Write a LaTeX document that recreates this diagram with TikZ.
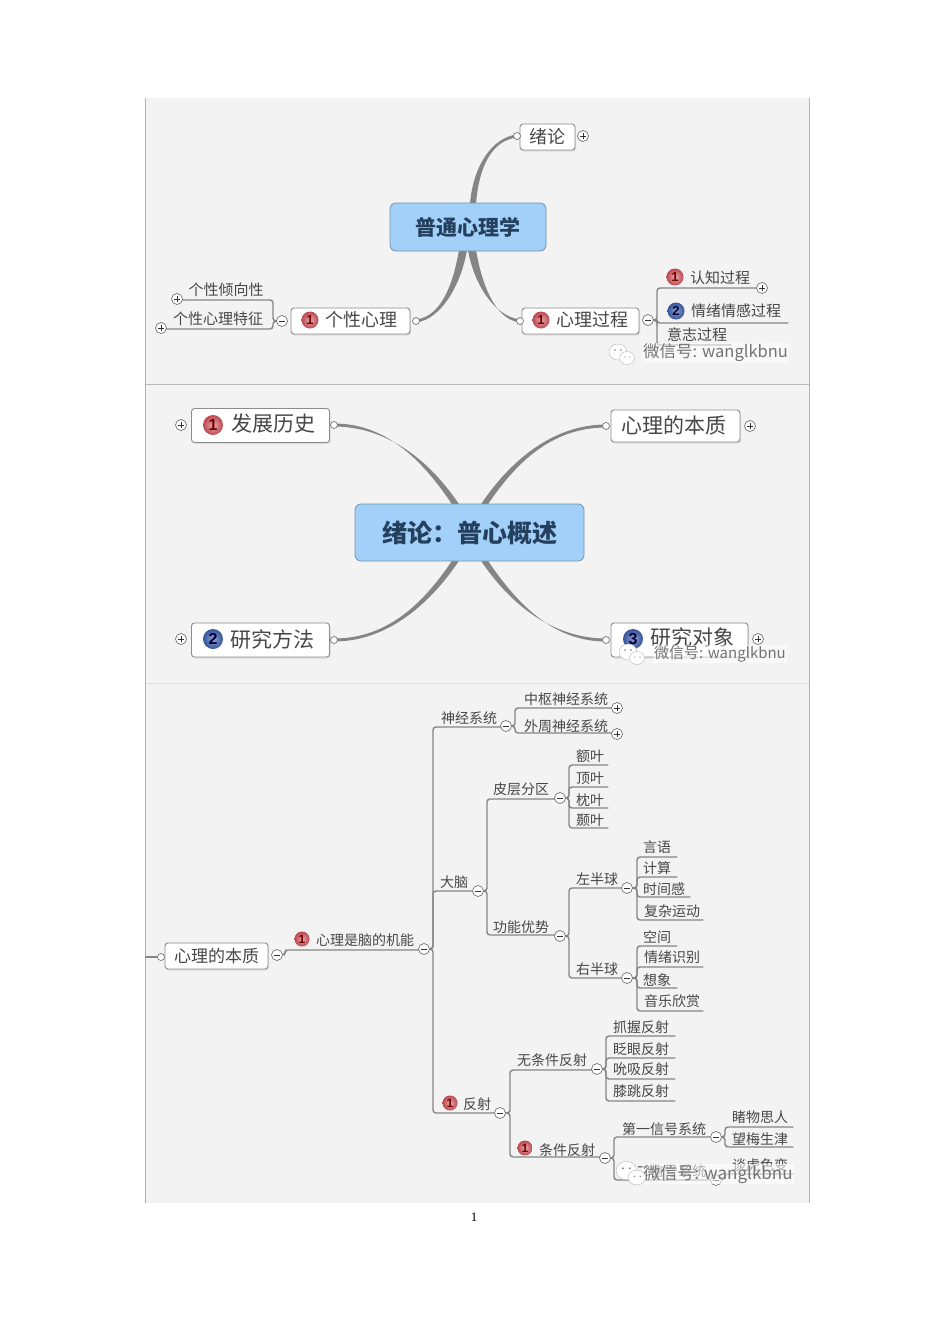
\documentclass[tikz,border=0pt]{standalone}
\usepackage{fontspec}
\setmainfont{Noto Sans CJK SC}
\newfontfamily\pagefont{Liberation Serif}
\newfontfamily\badgefont{Liberation Sans}
\usetikzlibrary{calc,shadows}
\pgfdeclarelayer{panelbg}
\pgfdeclarelayer{linklayer}
\pgfsetlayers{panelbg,linklayer,main}
\definecolor{panelc}{HTML}{F3F3F3}
\definecolor{linkc}{HTML}{858585}
\definecolor{textc}{HTML}{474747}
\definecolor{bluec}{HTML}{A3D0F8}
\definecolor{centraltext}{HTML}{24405E}
\definecolor{redball}{HTML}{BE4650}
\definecolor{blueball}{HTML}{34549C}
\newcommand{\fs}[1]{\fontsize{#1}{#1}\selectfont}
\tikzset{
  x=1pt,y=-1pt,
  central/.style={draw=bluec!70!black,fill=bluec,rounded corners=6pt,line width=.8pt,inner sep=0pt,text=centraltext,font=\bfseries},
  topicbox/.style={draw=black!45,fill=white,rounded corners=3pt,line width=.9pt,inner sep=0pt,
     drop shadow={opacity=.2,shadow xshift=1pt,shadow yshift=-1.5pt}},
  lbltxt/.style={text=textc,inner sep=0pt},
  ctl/.style={circle,draw=black!55,fill=white,line width=.7pt,minimum size=11pt,inner sep=0pt},
  ctlplus/.style={ctl,path picture={
     \draw[line width=1pt,black!80] ([xshift=-3pt]path picture bounding box.center)--([xshift=3pt]path picture bounding box.center);
     \draw[line width=1pt,black!80] ([yshift=-3pt]path picture bounding box.center)--([yshift=3pt]path picture bounding box.center);}},
  ctlminus/.style={ctl,path picture={
     \draw[line width=1pt,black!80] ([xshift=-3pt]path picture bounding box.center)--([xshift=3pt]path picture bounding box.center);}},
  ctlopen/.style={ctl,minimum size=7pt},
  lnk/.style={draw=linkc,line width=1.4pt,rounded corners=3pt,line cap=round},
  wmtext/.style={text=black!55,inner sep=1pt,fill=white,fill opacity=.55,text opacity=1},
  redbadge/.style={circle,shading=radial,inner color=redball!45!white,outer color=redball,inner sep=0pt,text=black!55!red,font=\badgefont\bfseries},
  bluebadge/.style={circle,shading=radial,inner color=blueball!55!white,outer color=blueball,inner sep=0pt,text=blue!25!black,font=\badgefont\bfseries},
}
% text above an underline: name, text x, text y, size, text, spine x, far x, underline y
\newcommand{\mmleaf}[8]{%
  \node[lbltxt,font=\fs{#4}] (#1) at (#2,#3) {#5};
  \coordinate (#1-l) at (#6,#8);
  \coordinate (#1-r) at (#7,#8);}
% link from a control, along a spine, under the child
\newcommand{\mmlink}[2]{%
  \begin{pgfonlayer}{linklayer}
  \draw[lnk] (#1.center) -- (#1.center -| #2-l) -- (#2-l) -- (#2-r);
  \end{pgfonlayer}}
% tapered main branch: small node, coordinate on centre box, ctrl offset, ctrl offset, half width
\newcommand{\mmtaper}[5]{%
  \begin{pgfonlayer}{linklayer}
  \fill[linkc] ($(#1)+(0,-1.5)$) .. controls ($(#1)+(#3)+(0,-1.5)$) and ($(#2)+(#4)+(-#5,0)$) .. ($(#2)+(-#5,0)$)
     -- ($(#2)+(#5,0)$) .. controls ($(#2)+(#4)+(#5,0)$) and ($(#1)+(#3)+(0,1.5)$) .. ($(#1)+(0,1.5)$) -- cycle;
  \end{pgfonlayer}}
% watermark icon
\newcommand{\mmicon}[3]{%
  \begin{scope}[shift={(#1,#2)},scale=#3]
    \draw[fill=white,draw=black!25,line width=.5pt] (-4,-3) ellipse [x radius=9,y radius=8];
    \draw[fill=white,draw=black!25,line width=.5pt] (5,3) ellipse [x radius=7.5,y radius=6.5];
    \fill[black!50] (-7,-5) circle [radius=.9] (-1,-5) circle [radius=.9] (3,2) circle [radius=.7] (8,2) circle [radius=.7];
  \end{scope}}
\begin{document}
\begin{tikzpicture}
\useasboundingbox (0,0) rectangle (950,1344);
\begin{pgfonlayer}{panelbg}
  \fill[white] (0,0) rectangle (950,1344);
  \fill[panelc] (145,98) rectangle (809,1203);
  \draw[black!28,line width=.7pt] (145,384.5) -- (809,384.5);
  \draw[black!12,line width=.7pt] (145,683.5) -- (809,683.5);
  \draw[black!30,line width=.7pt] (145.5,98) -- (145.5,1203);
  \draw[black!30,line width=.7pt] (809.5,98) -- (809.5,1203);
\end{pgfonlayer}

%%% PANEL 1
\node[central,minimum width=156pt,minimum height=48pt,font=\bfseries\fs{21}] (c1) at (468,227) {普通心理学};
\coordinate (c1t) at (473,204);
\coordinate (c1bl) at (463,250);
\coordinate (c1br) at (472,250);

\node[topicbox,minimum width=55pt,minimum height=26pt,lbltxt,font=\fs{18}] (xl) at (547.5,137) {绪论};
\node[ctlopen] (xlo) at (517,136) {};
\node[ctlplus] (xlp) at (583,136) {};
\mmtaper{xlo}{c1t}{-25,3}{3,-38}{3}

\node[topicbox,minimum width=119pt,minimum height=26pt] (gx) at (350.5,321) {};
\node[lbltxt,font=\fs{18}] (gxt) at (361,320) {个性心理};
\node[redbadge,minimum size=17pt,font=\badgefont\bfseries\fs{13}] (gxb) at (310,320) {1};
\node[ctlopen] (gxo) at (416,321) {};
\node[ctlminus] (gxm) at (282,321) {};
\mmtaper{gxo}{c1bl}{25,-3}{-6,35}{4}

\node[topicbox,minimum width=117pt,minimum height=26pt] (xg) at (580.5,321) {};
\node[lbltxt,font=\fs{18}] (xgt) at (592,320) {心理过程};
\node[redbadge,minimum size=17pt,font=\badgefont\bfseries\fs{13}] (xgb) at (541,320) {1};
\node[ctlopen] (xgo) at (520,321) {};
\node[ctlminus] (xgm) at (648,320) {};
\mmtaper{xgo}{c1br}{-25,-3}{6,35}{4}

\node[ctlplus] (qxp) at (177,299) {};
\node[ctlplus] (tzp) at (161,328) {};
\mmleaf{qx}{226}{290}{15}{个性倾向性}{273}{177}{300}
\mmleaf{tz}{218}{319}{15}{个性心理特征}{273}{161}{329}
\mmlink{gxm}{qx}
\mmlink{gxm}{tz}

\node[ctlplus] (rzp) at (762,288) {};
\mmleaf{rz}{720}{278}{15}{认知过程}{657}{762}{288}
\node[redbadge,minimum size=17pt,font=\badgefont\bfseries\fs{13}] (rzb) at (675,277) {1};
\mmleaf{qg}{736}{311}{15}{情绪情感过程}{657}{788}{323}
\node[bluebadge,minimum size=17pt,font=\badgefont\bfseries\fs{13}] (qgb) at (676,311) {2};
\mmleaf{yz}{697}{335}{15}{意志过程}{657}{731}{345}
\mmlink{xgm}{rz}
\mmlink{xgm}{qg}
\mmlink{xgm}{yz}

\mmicon{622}{355}{1}
\node[wmtext,font=\fs{16.5}] (wm1) at (715.5,353) {微信号: wanglkbnu};

%%% PANEL 2
\node[central,minimum width=229pt,minimum height=57pt,font=\bfseries\fs{25}] (c2) at (469.5,532.5) {绪论：普心概述};
\coordinate (c2tl) at (456,505);
\coordinate (c2tr) at (484,505);
\coordinate (c2bl) at (456,560);
\coordinate (c2br) at (484,560);

\node[topicbox,minimum width=138pt,minimum height=34pt] (fz) at (260.5,425.5) {};
\node[lbltxt,font=\fs{21}] (fzt) at (273,424) {发展历史};
\node[redbadge,minimum size=20pt,font=\badgefont\bfseries\fs{16}] (fzb) at (213,425) {1};
\node[ctlplus] (fzp) at (181,425) {};
\node[ctlopen] (fzo) at (334,425) {};
\mmtaper{fzo}{c2tl}{50,0}{-32,-48}{3.5}

\node[topicbox,minimum width=129pt,minimum height=32pt] (bz) at (675.5,426) {};
\node[lbltxt,font=\fs{21}] (bzt) at (674,425) {心理的本质};
\node[ctlplus] (bzp) at (750,426) {};
\node[ctlopen] (bzo) at (606,426) {};
\mmtaper{bzo}{c2tr}{-50,0}{32,-48}{3.5}

\node[topicbox,minimum width=138pt,minimum height=34pt] (ff) at (260.5,640) {};
\node[lbltxt,font=\fs{21}] (fft) at (272,639) {研究方法};
\node[bluebadge,minimum size=20pt,font=\badgefont\bfseries\fs{16}] (ffb) at (213,639) {2};
\node[ctlplus] (ffp) at (181,639) {};
\node[ctlopen] (ffo) at (334,640) {};
\mmtaper{ffo}{c2bl}{50,0}{-32,48}{3.5}

\node[topicbox,minimum width=137pt,minimum height=34pt] (dx) at (679.5,640) {};
\node[lbltxt,font=\fs{21}] (dxt) at (692,637) {研究对象};
\node[bluebadge,minimum size=20pt,font=\badgefont\bfseries\fs{16}] (dxb) at (633,639) {3};
\node[ctlplus] (dxp) at (758,639) {};
\node[ctlopen] (dxo) at (606,640) {};
\mmtaper{dxo}{c2br}{-50,0}{32,48}{3.5}

\mmicon{632}{655}{1}
\node[wmtext,font=\fs{15}] (wm2) at (720,654) {微信号: wanglkbnu};

%%% PANEL 3
\node[topicbox,minimum width=103pt,minimum height=26pt,lbltxt,font=\fs{17}] (bz3) at (216.5,956) {心理的本质};
\node[ctlopen] (bz3o) at (161,957) {};
\coordinate (stub) at (146,957);
\begin{pgfonlayer}{linklayer}
  \draw[lnk,line width=2pt] (stub) -- (bz3o);
\end{pgfonlayer}
\node[ctlminus] (bz3m) at (277,955) {};
\node[ctlminus] (jnm) at (424,949) {};
\mmleaf{jn}{365}{940}{14}{心理是脑的机能}{285}{424}{950}
\node[redbadge,minimum size=15pt,font=\badgefont\bfseries\fs{12}] (jnb) at (302,939) {1};
\mmlink{bz3m}{jn}

% level 2
\node[ctlminus] (sjm) at (506,726) {};
\node[ctlminus] (dnm) at (478,891) {};
\node[ctlminus] (fsm) at (500,1113) {};
\mmleaf{sj}{469}{718}{14}{神经系统}{433}{506}{727}
\mmleaf{dn}{454}{882}{14}{大脑}{433}{478}{891}
\mmleaf{fs}{477}{1104}{14}{反射}{433}{500}{1113}
\node[redbadge,minimum size=15pt,font=\badgefont\bfseries\fs{12}] (fsb) at (450,1103) {1};
\mmlink{jnm}{sj}
\mmlink{jnm}{dn}
\mmlink{jnm}{fs}

% nervous system
\node[ctlplus] (zsp) at (617,708) {};
\node[ctlplus] (wzp) at (617,734) {};
\mmleaf{zs}{566}{699}{14}{中枢神经系统}{515}{617}{708}
\mmleaf{wz}{566}{726}{14}{外周神经系统}{515}{617}{733}
\mmlink{sjm}{zs}
\mmlink{sjm}{wz}

% brain
\node[ctlminus] (pcm) at (560,798) {};
\node[ctlminus] (gnm) at (560,936) {};
\mmleaf{pc}{521}{789}{14}{皮层分区}{487}{560}{799}
\mmleaf{gn}{521}{927}{14}{功能优势}{487}{560}{935}
\mmlink{dnm}{pc}
\mmlink{dnm}{gn}

\mmleaf{ey}{590}{756}{14}{额叶}{569}{608}{765}
\mmleaf{dy}{590}{778}{14}{顶叶}{569}{608}{787}
\mmleaf{zy}{590}{800}{14}{枕叶}{569}{608}{808}
\mmleaf{ny}{590}{820}{14}{颞叶}{569}{608}{828}
\mmlink{pcm}{ey}
\mmlink{pcm}{dy}
\mmlink{pcm}{zy}
\mmlink{pcm}{ny}

\node[ctlminus] (zbm) at (627,888) {};
\node[ctlminus] (ybm) at (627,978) {};
\mmleaf{zb}{597}{879}{14}{左半球}{569}{627}{888}
\mmleaf{yb}{597}{969}{14}{右半球}{569}{627}{978}
\mmlink{gnm}{zb}
\mmlink{gnm}{yb}

\mmleaf{yy}{657}{847}{14}{言语}{637}{677}{857}
\mmleaf{js}{657}{868}{14}{计算}{637}{677}{877}
\mmleaf{sg}{664}{889}{14}{时间感}{637}{690}{897}
\mmleaf{fy}{672}{911}{14}{复杂运动}{637}{703}{920}
\mmlink{zbm}{yy}
\mmlink{zbm}{js}
\mmlink{zbm}{sg}
\mmlink{zbm}{fy}

\mmleaf{kj}{657}{937}{14}{空间}{637}{677}{946}
\mmleaf{qs}{672}{957}{14}{情绪识别}{637}{703}{967}
\mmleaf{xx}{657}{980}{14}{想象}{637}{677}{988}
\mmleaf{yl}{672}{1001}{14}{音乐欣赏}{637}{703}{1011}
\mmlink{ybm}{kj}
\mmlink{ybm}{qs}
\mmlink{ybm}{xx}
\mmlink{ybm}{yl}

% reflex
\node[ctlminus] (wtm) at (597,1069) {};
\node[ctlminus] (tjm) at (605,1158) {};
\mmleaf{wt}{552}{1060}{14}{无条件反射}{510}{597}{1070}
\mmleaf{tj}{567}{1150}{14}{条件反射}{510}{605}{1157}
\node[redbadge,minimum size=15pt,font=\badgefont\bfseries\fs{12}] (tjb) at (525,1148) {1};
\mmlink{fsm}{wt}
\mmlink{fsm}{tj}

\mmleaf{zw}{641}{1027}{14}{抓握反射}{606}{675}{1036}
\mmleaf{zy2}{641}{1049}{14}{眨眼反射}{606}{675}{1058}
\mmleaf{sx}{641}{1069}{14}{吮吸反射}{606}{675}{1079}
\mmleaf{xt}{641}{1091}{14}{膝跳反射}{606}{675}{1101}
\mmlink{wtm}{zw}
\mmlink{wtm}{zy2}
\mmlink{wtm}{sx}
\mmlink{wtm}{xt}

\node[ctlminus] (d1m) at (716,1137) {};
\node[ctlminus] (d2m) at (716,1180) {};
\mmleaf{d1}{664}{1129}{14}{第一信号系统}{614}{716}{1137}
\mmleaf{d2}{664}{1171}{14}{第二信号系统}{614}{716}{1180}
\mmlink{tjm}{d1}
\mmlink{tjm}{d2}

\mmleaf{dw}{760}{1117}{14}{睹物思人}{725}{793}{1127}
\mmleaf{wm}{760}{1139}{14}{望梅生津}{725}{793}{1147}
\mmlink{d1m}{dw}
\mmlink{d1m}{wm}
\mmleaf{th}{760}{1165}{14}{谈虎色变}{725}{793}{1174}
\mmlink{d2m}{th}

\node[wmtext,font=\fs{17}] (wm3) at (718,1174) {微信号: wanglkbnu};
\mmicon{631}{1174}{1.15}

\node[inner sep=0pt,font=\pagefont\fs{13}] (pg) at (474,1217) {1};
\end{tikzpicture}
\end{document}
